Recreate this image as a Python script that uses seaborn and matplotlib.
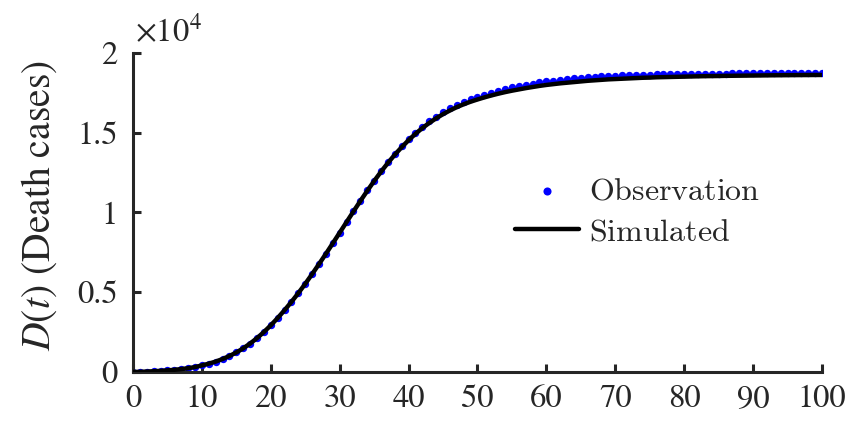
import numpy as np
import pandas as pd
import matplotlib
matplotlib.use("Agg")
import matplotlib.pyplot as plt
import seaborn as sns

# Day index and cumulative death counts
days = list(range(0, 101))

observed = [
    0, 10, 25, 45, 70, 100, 135, 180, 235, 300,
    410, 520, 650, 810, 1000, 1220, 1480, 1780, 2120, 2500,
    2920, 3380, 3870, 4390, 4940, 5520, 6130, 6760, 7400, 8060,
    8730, 9400, 10070, 10730, 11370, 11990, 12580, 13140, 13660, 14140,
    14590, 15000, 15370, 15700, 16000, 16270, 16510, 16720, 16910, 17080,
    17230, 17370, 17500, 17620, 17730, 17830, 17920, 18000, 18070, 18140,
    18200, 18250, 18300, 18350, 18390, 18430, 18460, 18490, 18520, 18540,
    18560, 18580, 18600, 18610, 18620, 18630, 18640, 18650, 18660, 18665,
    18670, 18675, 18680, 18685, 18690, 18693, 18696, 18699, 18702, 18705,
    18707, 18709, 18711, 18713, 18715, 18717, 18719, 18721, 18722, 18724,
    18725,
]

simulated = [
    0, 10, 25, 45, 70, 100, 135, 180, 235, 305,
    410, 520, 650, 810, 1000, 1220, 1480, 1780, 2120, 2500,
    2920, 3380, 3870, 4390, 4940, 5520, 6130, 6760, 7400, 8060,
    8725, 9390, 10055, 10710, 11345, 11960, 12545, 13095, 13610, 14080,
    14520, 14920, 15280, 15600, 15890, 16150, 16380, 16590, 16770, 16930,
    17070, 17200, 17320, 17430, 17530, 17620, 17700, 17780, 17850, 17920,
    17980, 18030, 18080, 18120, 18160, 18200, 18240, 18270, 18300, 18330,
    18350, 18370, 18390, 18410, 18430, 18440, 18460, 18470, 18480, 18490,
    18500, 18510, 18520, 18530, 18535, 18540, 18550, 18555, 18560, 18565,
    18570, 18575, 18580, 18585, 18588, 18592, 18595, 18598, 18600, 18603,
    18605,
]

y_ticks = [0, 5000, 10000, 15000, 20000]
y_tick_labels = ["0", "0.5", "1", "1.5", "2"]
x_ticks = list(range(0, 101, 10))

obs_df = pd.DataFrame({"day": days, "deaths": observed})
sim_df = pd.DataFrame({"day": days, "deaths": simulated})

sns.set_style("ticks")
plt.rcParams["font.family"] = ["STIXGeneral", "DejaVu Serif"]
plt.rcParams["mathtext.fontset"] = "cm"

axis_color = "#262626"

fig = plt.figure(figsize=(8.58, 4.32), dpi=100)
ax = fig.add_axes([0.155, 0.139, 0.803, 0.739])

sns.scatterplot(data=obs_df, x="day", y="deaths", ax=ax, color="#0000ff",
                s=28, linewidth=0, zorder=2, label=r"$\mathrm{Observation}$")
sns.lineplot(data=sim_df, x="day", y="deaths", ax=ax, color="black",
             linewidth=3.2, zorder=3, label=r"$\mathrm{Simulated}$")

ax.set_xlim(0, 100)
ax.set_ylim(0, 20000)
ax.set_xticks(x_ticks)
ax.set_yticks(y_ticks)
ax.set_yticklabels(y_tick_labels)
ax.set_xlabel("")
ax.set_ylabel(r"$D(t)$ (Death cases)", fontsize=28.5,
              color=axis_color, math_fontfamily="stix")
ax.yaxis.set_label_coords(-0.108, 0.52)

for side in ("top", "right"):
    ax.spines[side].set_visible(False)
for side in ("left", "bottom"):
    ax.spines[side].set_color(axis_color)
    ax.spines[side].set_linewidth(2.2)
ax.tick_params(direction="in", length=6, width=2.2, color=axis_color,
               labelsize=23.5, labelcolor=axis_color)
ax.tick_params(axis="y", pad=11)
ax.tick_params(axis="x", pad=9)

ax.text(0.003, 1.012, r"$\times10^{4}$", transform=ax.transAxes, fontsize=23.5,
        color=axis_color, ha="left", va="bottom", math_fontfamily="stix")

leg = ax.legend(loc="center left", bbox_to_anchor=(0.536, 0.5), frameon=False,
                fontsize=23, handlelength=2.0, handletextpad=0.3,
                labelspacing=0.35, borderaxespad=0, markerscale=1.1)
for t in leg.get_texts():
    t.set_color(axis_color)

fig.savefig("out.png", dpi=100)
